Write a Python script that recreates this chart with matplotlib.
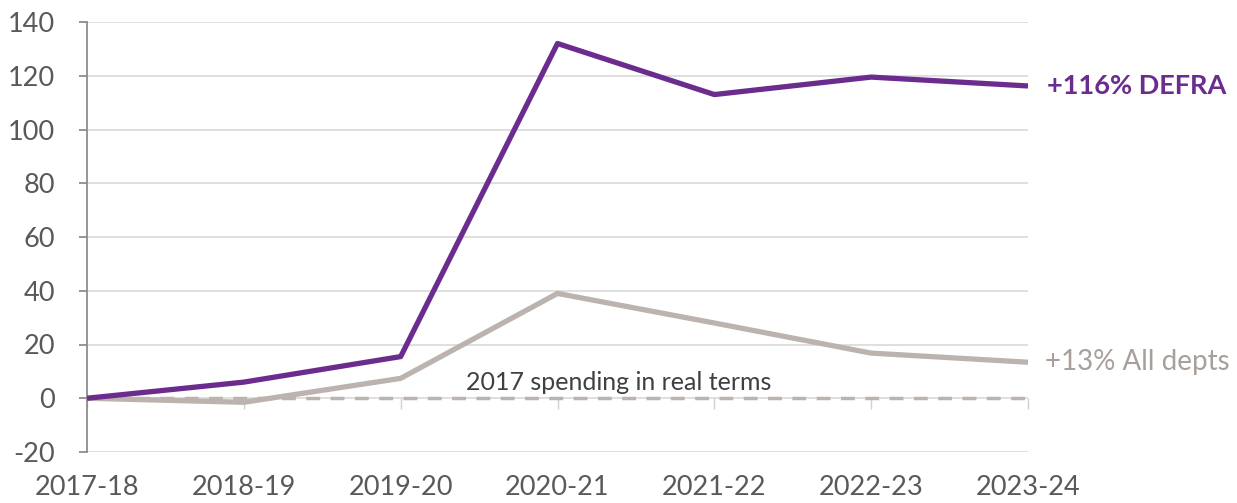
import matplotlib
matplotlib.use("Agg")
import matplotlib.pyplot as plt

years = ["2017-18", "2018-19", "2019-20", "2020-21", "2021-22", "2022-23", "2023-24"]
defra = [0, 6, 15.5, 132, 113, 119.5, 116.2]
all_depts = [0, -1.5, 7.4, 39, 28, 16.8, 13.4]
baseline = [0, 0, 0, 0, 0, 0, 0]
yticks = [-20, 0, 20, 40, 60, 80, 100, 120, 140]

purple = "#6b2c8e"
grey = "#bcb3af"
txt = "#595959"

plt.rcParams['font.family'] = ['Lato', 'DejaVu Sans']
plt.rcParams['axes.unicode_minus'] = False

fig = plt.figure(figsize=(12.37, 5.03), dpi=100)
ax = fig.add_axes([87/1237, 1-452/503, (1028-87)/1237, (452-22)/503])

x = list(range(len(years)))
ax.plot(x, baseline, color=grey, lw=2.5, ls=(0, (4, 3)), zorder=2)
ax.plot(x, all_depts, color=grey, lw=3.8, solid_capstyle='butt', zorder=3)
ax.plot(x, defra, color=purple, lw=3.8, solid_capstyle='butt', zorder=4)

ax.set_xlim(0, len(years)-1)
ax.set_ylim(-20, 140)
ax.set_yticks(yticks)
ax.grid(axis='y', color='#d9d9d9', lw=1.2)
ax.set_axisbelow(True)

for s in ['top', 'right']:
    ax.spines[s].set_visible(False)
ax.spines['left'].set_color('#8c8c8c')
ax.spines['left'].set_linewidth(1.3)
ax.spines['bottom'].set_position(('data', 0))
ax.spines['bottom'].set_color('none')

ax.set_xticks(x)
ax.set_xticklabels(years)
ax.tick_params(axis='x', direction='out', length=8, width=1, color='#d0d0d0',
               pad=47, labelsize=19.5, labelcolor=txt)
ax.tick_params(axis='y', direction='out', length=6, width=1.3, color='#8c8c8c',
               pad=17, labelsize=19.5, labelcolor=txt)

ax.text(3.39, 1.5, "2017 spending in real terms", ha='center', va='bottom',
        fontsize=18, color='#404040', transform=ax.transData)
ax.annotate("+116% DEFRA", xy=(len(years)-1, defra[-1]), xytext=(14, 0),
            textcoords='offset points', ha='left', va='center', fontsize=19.5,
            fontweight='bold', color=purple, annotation_clip=False)
ax.annotate("+13% All depts", xy=(len(years)-1, all_depts[-1]), xytext=(12, 0),
            textcoords='offset points', ha='left', va='center', fontsize=20,
            color='#a89f9b', annotation_clip=False)

fig.savefig("out.png", dpi=100)
